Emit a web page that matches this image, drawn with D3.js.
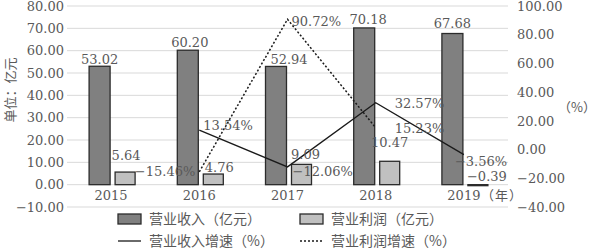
<!DOCTYPE html>
<html><head><meta charset="utf-8">
<script src="https://cdn.jsdelivr.net/npm/d3@7"></script>
<style>body{margin:0;background:#fff}svg{display:block}</style>
</head><body><svg id="c" width="596" height="250"></svg>
<script>
const years = ["2015","2016","2017","2018","2019"];
const revenue = [53.02, 60.20, 52.94, 70.18, 67.68];
const profit = [5.64, 4.76, 9.09, 10.47, -0.39];
const revGrowth = [null, 13.54, -12.06, 32.57, -3.56];
const profGrowth = [null, -15.46, 90.72, 15.23, null];
const leftTicks = [-10,0,10,20,30,40,50,60,70,80];
const rightTicks = [-40,-20,0,20,40,60,80,100];

// label offsets (layout only)
const revLabelOff = [[0,-7],[2,-8],[13,-7],[4,-8],[0,-10]];
const profLabelOff = [[1,-17],[6,-7],[4,-10],[0,-19],[9,-8]];
const revGLabelOff = [null,[4,-5,"start"],[5,5,"start"],[19,1,"start"],[-9,7,"start"]];
const profGLabelOff = [null,[-4,0,"end"],[4,2,"start"],[19,1,"start"],null];

const svg = d3.select("#c");
const txt = "#595959";
const numFont = "'DejaVu Serif', serif";
const cjkFont = "'Noto Sans CJK SC', sans-serif";

const x = d3.scaleBand().domain(years).range([67,508]).padding(0);
const yL = d3.scaleLinear().domain([-10,80]).range([207,6]);
const yR = d3.scaleLinear().domain([-40,100]).range([207,6]);
const cx = d => x(d) + x.bandwidth()/2;
const fmt = v => d3.format(".2f")(v).replace("-","−");

// gridlines
svg.append("g").selectAll("line").data(leftTicks).join("line")
  .attr("x1",67).attr("x2",508).attr("y1",d=>yL(d)).attr("y2",d=>yL(d))
  .attr("stroke","#d9d9d9").attr("stroke-width",1);

// left axis
const axL = svg.append("g").attr("transform","translate(67,0)")
  .call(d3.axisLeft(yL).tickValues(leftTicks).tickFormat(fmt).tickSize(0).tickPadding(3));
axL.select(".domain").remove();
axL.selectAll("text").attr("fill",txt).style("font-family",numFont).style("font-size","13px");

// right axis
const axR = svg.append("g").attr("transform","translate(514,0)")
  .call(d3.axisRight(yR).tickValues(rightTicks).tickFormat(fmt).tickSize(0).tickPadding(3));
axR.select(".domain").remove();
axR.selectAll("text").attr("fill",txt).style("font-family",numFont).style("font-size","13px");

// x axis
const axX = svg.append("g").attr("transform","translate(0,"+yL(0)+")")
  .call(d3.axisBottom(x).tickSize(0).tickPadding(6));
axX.select(".domain").remove();
axX.selectAll("text").attr("fill",txt).style("font-family",numFont).style("font-size","13px");
const nian = svg.append("text").attr("x",cx("2019")+17).attr("y",yL(0)+15)
  .attr("fill",txt).style("font-family",cjkFont).style("font-size","13px");
nian.append("tspan").text("（");
nian.append("tspan").attr("dx",1).text("年");
nian.append("tspan").attr("dx",1).text("）");

// bars
svg.append("g").selectAll("rect").data(years).join("rect")
  .attr("x",d=>cx(d)-22).attr("width",21)
  .attr("y",(d,i)=>yL(Math.max(0,revenue[i]))).attr("height",(d,i)=>Math.abs(yL(revenue[i])-yL(0)))
  .attr("fill","#808080").attr("stroke","#2b2b2b").attr("stroke-width",1.3);
svg.append("g").selectAll("rect").data(years).join("rect")
  .attr("x",d=>cx(d)+4).attr("width",20)
  .attr("y",(d,i)=>yL(Math.max(0,profit[i]))).attr("height",(d,i)=>Math.max(1,Math.abs(yL(profit[i])-yL(0))))
  .attr("fill","#c0c0c0").attr("stroke","#2b2b2b").attr("stroke-width",1.3);

// lines
const lineGen = d3.line().defined(d=>d[1]!==null).x(d=>cx(d[0])).y(d=>yR(d[1]));
svg.append("path").datum(years.map((d,i)=>[d,revGrowth[i]])).attr("d",lineGen)
  .attr("fill","none").attr("stroke","#1a1a1a").attr("stroke-width",1.3);
svg.append("path").datum(years.map((d,i)=>[d,profGrowth[i]])).attr("d",lineGen)
  .attr("fill","none").attr("stroke","#1a1a1a").attr("stroke-width",1.5).attr("stroke-dasharray","2,2");

// bar labels
const lab = svg.append("g").attr("fill",txt).style("font-family",numFont).style("font-size","13px");
years.forEach((d,i)=>{
  lab.append("text").attr("x",cx(d)-11.5+revLabelOff[i][0]).attr("y",yL(revenue[i])+revLabelOff[i][1])
    .attr("text-anchor","middle").attr("dy","0.35em").text(fmt(revenue[i]));
  lab.append("text").attr("x",cx(d)+14+profLabelOff[i][0]).attr("y",yL(Math.max(0,profit[i]))+profLabelOff[i][1])
    .attr("text-anchor","middle").attr("dy","0.35em").text(fmt(profit[i]));
  if(revGrowth[i]!==null){const o=revGLabelOff[i];
    lab.append("text").attr("x",cx(d)+o[0]).attr("y",yR(revGrowth[i])+o[1]).attr("text-anchor",o[2])
      .attr("dy","0.35em").text(fmt(revGrowth[i])+"%");}
  if(profGrowth[i]!==null){const o=profGLabelOff[i];
    lab.append("text").attr("x",cx(d)+o[0]).attr("y",yR(profGrowth[i])+o[1]).attr("text-anchor",o[2])
      .attr("dy","0.35em").text(fmt(profGrowth[i])+"%");}
});

// axis titles
svg.append("text").attr("transform","translate(15,90) rotate(-90)").attr("text-anchor","middle")
  .attr("fill",txt).style("font-family",cjkFont).style("font-size","13px").text("单位：亿元");
svg.append("text").attr("x",577).attr("y",107).attr("text-anchor","middle").attr("dy","0.35em")
  .attr("fill",txt).style("font-family",cjkFont).style("font-size","13px").text("（%）");

// legend
const leg = svg.append("g");
const legItems = [
  {type:"bar",fill:"#808080",label:"营业收入（亿元）",x:118,y:219},
  {type:"bar",fill:"#c0c0c0",label:"营业利润（亿元）",x:300,y:219},
  {type:"line",dash:null,label:"营业收入增速（%）",x:118,y:241},
  {type:"line",dash:"2,2",label:"营业利润增速（%）",x:300,y:241}
];
legItems.forEach(it=>{
  if(it.type==="bar"){
    leg.append("rect").attr("x",it.x).attr("y",it.y-5).attr("width",23).attr("height",10)
      .attr("fill",it.fill).attr("stroke","#2b2b2b").attr("stroke-width",1.3);
  } else {
    leg.append("line").attr("x1",it.x).attr("x2",it.x+23).attr("y1",it.y).attr("y2",it.y)
      .attr("stroke","#1a1a1a").attr("stroke-width",1.3).attr("stroke-dasharray",it.dash);
  }
  leg.append("text").attr("x",it.x+31).attr("y",it.y).attr("dy","0.35em").attr("fill",txt)
    .style("font-family",cjkFont).style("font-size","14px").text(it.label);
});
</script></body></html>
